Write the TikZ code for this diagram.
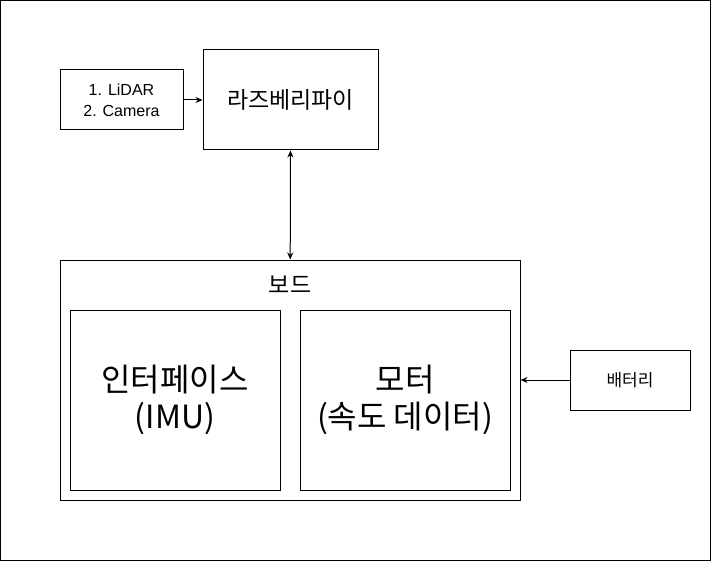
\documentclass[tikz,border=0pt]{standalone}
\usepackage{fontspec}
\setmainfont{Liberation Sans}
\newfontfamily\kr{Noto Sans CJK KR}
\usetikzlibrary{arrows.meta}
\begin{document}
\begin{tikzpicture}[x=1pt,y=-1pt,line width=1pt,>={Stealth[length=7pt,width=6pt]},
        box/.style={draw,rectangle,inner sep=0pt,align=center},
        small/.style={font=\fontsize{16}{21}\selectfont},
        smallkr/.style={font=\kr\fontsize{17}{21}\selectfont},
        mid/.style={font=\kr\fontsize{23}{27}\selectfont},
        big/.style={font=\kr\fontsize{32}{37}\selectfont}]
        \useasboundingbox (0,0) rectangle (711,561);
        \draw (0.5,0.5) rectangle (710,560);
        \node[box,small,minimum width=123pt,minimum height=60pt] (sensor) at (121.5,100) {1. LiDAR\\2. Camera};
        \node[box,mid,minimum width=175pt,minimum height=100pt] (rpi) at (290.5,100) {라즈베리파이};
        \node[box,minimum width=460pt,minimum height=240pt] (board) at (290,380) {};
        \node[mid] (boardlabel) at (290,285) {보드};
        \node[box,big,minimum width=210pt,minimum height=180pt] (imu) at (175,400) {인터페이스\\(IMU)};
        \node[box,big,minimum width=210pt,minimum height=180pt] (motor) at (405,400) {모터\\(속도 데이터)};
        \node[box,smallkr,minimum width=120pt,minimum height=60pt] (battery) at (630,380) {배터리};
        \draw[->] (sensor) -- (rpi);
        \draw[<->] (rpi) -- (board);
        \draw[->] (battery) -- (board);
    \end{tikzpicture}
\end{document}
